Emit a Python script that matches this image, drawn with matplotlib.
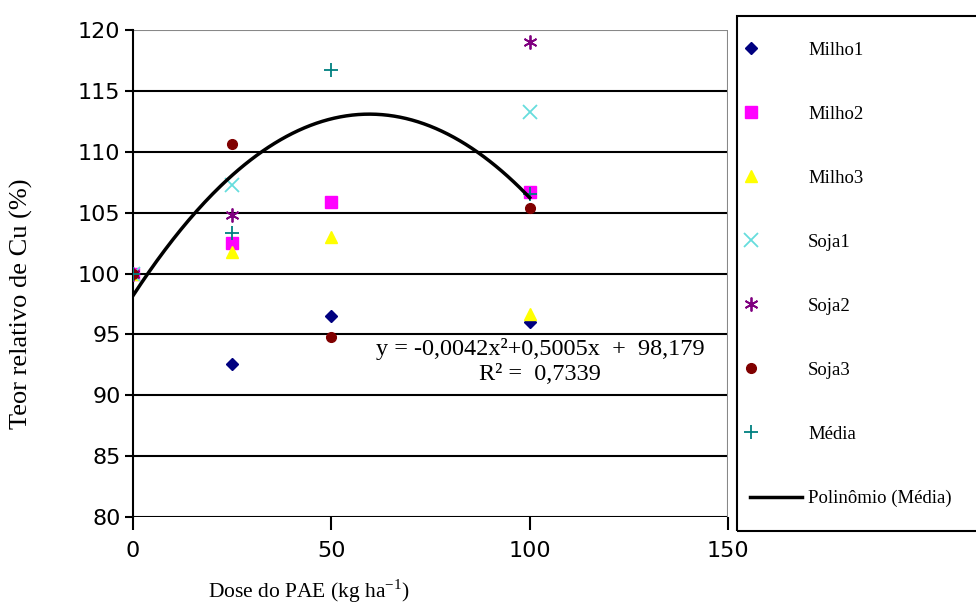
import numpy as np
import matplotlib.pyplot as plt
from matplotlib.patches import Rectangle
from matplotlib.legend_handler import HandlerLine2DCompound

plt.rcParams["mathtext.fontset"] = "custom"
plt.rcParams["mathtext.rm"] = "Liberation Serif"

# Doses of PAE (kg/ha) and relative Cu content (%) for each crop
doses = [0, 25, 50, 100]
milho1 = [100.0, 92.6, 96.5, 96.0]
milho2 = [100.0, 102.5, 105.9, 106.7]
milho3 = [100.0, 101.8, 103.0, 96.7]
soja1 = [100.0, 107.3, np.nan, 113.3]
soja2 = [100.0, 104.8, np.nan, 119.0]
soja3 = [100.0, 110.6, 94.8, 105.4]
media = [100.0, 103.3, 116.7, 106.5]

# quadratic fit of the mean: y = a x^2 + b x + c
poly_coef = [-0.0042, 0.5005, 98.179]
r2 = 0.7339

xticks = [0, 50, 100, 150]
yticks = [80, 85, 90, 95, 100, 105, 110, 115, 120]


# legend markers sit at the left end of the handle box
class LeftMarkerHandler(HandlerLine2DCompound):
    def get_xdata(self, legend, xdescent, ydescent, width, height, fontsize):
        xdata, _ = super().get_xdata(legend, xdescent, ydescent, width, height, fontsize)
        return xdata, np.array([-xdescent + 0.02 * width])


fig = plt.figure(figsize=(9.76, 6.12), dpi=100)
ax = fig.add_axes([133 / 976, 1 - 517 / 612, (728 - 133) / 976, (517 - 30) / 612])

series = [
    ("Milho1", milho1, dict(marker="D", color="#000080", ms=6)),
    ("Milho2", milho2, dict(marker="s", color="#ff00ff", ms=8)),
    ("Milho3", milho3, dict(marker="^", color="#ffff00", ms=9)),
    ("Soja1", soja1, dict(marker="x", color="#66dddd", ms=10, mew=1.3)),
    ("Soja2", soja2, dict(marker=(6, 2, 0), color="#800080", ms=10, mew=1.3)),
    ("Soja3", soja3, dict(marker="o", color="#800000", ms=7)),
    ("Média", media, dict(marker="+", color="#008080", ms=10, mew=1.3)),
]

handles = []
hmap = {}
for name, vals, style in series:
    h, = ax.plot(doses, vals, linestyle="none", label=name, zorder=3, **style)
    handles.append(h)
    hmap[h] = LeftMarkerHandler()

xs = np.linspace(0, 100, 200)
fit = np.polyval(poly_coef, xs)
h, = ax.plot(xs, fit, color="black", lw=2.5, label="Polinômio (Média)", zorder=4)
handles.append(h)

eq = "y = -0,0042x²+0,5005x  +  98,179\nR² =  0,7339"
ax.text(102.6, 92.75, eq, ha="center", va="center", fontsize=17.5,
        family="Liberation Serif", linespacing=1.25, zorder=5)

ax.set_xlim(0, 150)
ax.set_ylim(80, 120)
ax.set_xticks(xticks)
ax.set_yticks(yticks)
for y in yticks[:-1]:
    ax.axhline(y, color="black", lw=1.5, zorder=1)
ax.axhline(120, color="#888888", lw=1.5, zorder=1)

for side in ["top", "right", "bottom"]:
    ax.spines[side].set_visible(False)
ax.spines["left"].set_color("black")
ax.spines["left"].set_linewidth(1.5)
ax.axvline(150, color="#888888", lw=1.5, zorder=1)

ax.tick_params(axis="y", direction="out", length=6, width=1.5, pad=3)
ax.tick_params(axis="x", direction="out", length=9, width=1.5, pad=8)
for lab in ax.get_xticklabels() + ax.get_yticklabels():
    lab.set_fontsize(16)
    lab.set_family("DejaVu Sans")

ax.set_xlabel("Dose do PAE (kg ha$^{\\mathregular{-1}}$)", fontsize=15.5, family="Liberation Serif")
ax.xaxis.set_label_coords(0.296, -0.125)
ax.set_ylabel("Teor relativo de Cu (%)", fontsize=19, family="Liberation Serif")
ax.yaxis.set_label_coords(-0.168, 0.437)

# legend box on the right, partly cut by the figure edge
fig.patches.append(Rectangle((737 / 976, 1 - 531 / 612), 0.3, (531 - 16) / 612,
                             transform=fig.transFigure, fill=False,
                             edgecolor="black", lw=1.5, clip_on=False))
leg = fig.legend(handles=handles, handler_map=hmap, loc="upper left",
                 bbox_to_anchor=(733 / 976, 1 - 25 / 612), frameon=False,
                 prop={"family": "Liberation Serif", "size": 13.5},
                 labelspacing=2.5, handlelength=2.8, handletextpad=0.3)

fig.savefig("out.png", dpi=100)
